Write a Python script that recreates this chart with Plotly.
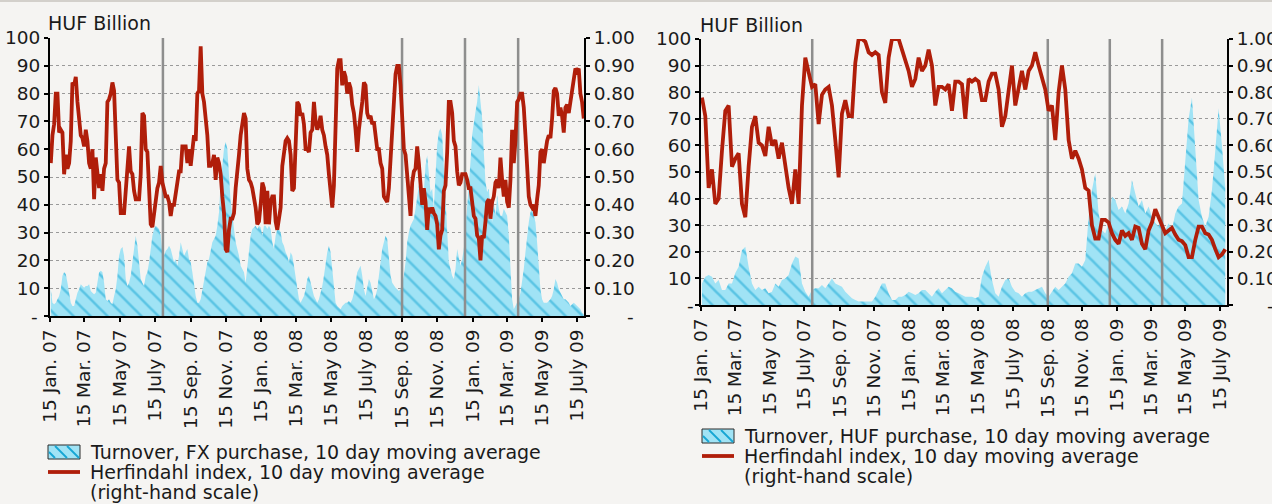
import pandas as pd
import plotly.graph_objects as go

W, H = 1272, 504

# ---------------- data ----------------
tick_dates = ["2007-01-15", "2007-03-15", "2007-05-15", "2007-07-15", "2007-09-15", "2007-11-15",
              "2008-01-15", "2008-03-15", "2008-05-15", "2008-07-15", "2008-09-15", "2008-11-15",
              "2009-01-15", "2009-03-15", "2009-05-15", "2009-07-15"]
tick_labels = ["15 Jan. 07", "15 Mar. 07", "15 May 07", "15 July 07", "15 Sep. 07", "15 Nov. 07",
               "15 Jan. 08", "15 Mar. 08", "15 May 08", "15 July 08", "15 Sep. 08", "15 Nov. 08",
               "15 Jan. 09", "15 Mar. 09", "15 May 09", "15 July 09"]
event_dates = ["2007-07-29", "2008-09-15", "2009-01-02", "2009-04-04"]

left_ticks = [0, 10, 20, 30, 40, 50, 60, 70, 80, 90, 100]
left_ticklabels = ["", "10", "20", "30", "40", "50", "60", "70", "80", "90", "100"]
right_ticks = [0, 0.1, 0.2, 0.3, 0.4, 0.5, 0.6, 0.7, 0.8, 0.9, 1.0]
right_ticklabels = ["", "0.10", "0.20", "0.30", "0.40", "0.50", "0.60", "0.70",
                    "0.80", "0.90", "1.00"]
zero_label = "-"

# left panel: FX purchase (sampled roughly every 2.9 days from 16 Jan 2007)
fx_start, fx_step = "2007-01-15 21:00", "4152min"
fx_turnover = [
    9.6, 4.8, 4.2, 4.8, 6.0, 7.2, 9.6, 14.5, 15.7, 15.1,
    12.0, 8.4, 4.8, 3.6, 3.6, 6.0, 8.4, 9.6, 11.4, 10.8,
    10.2, 10.8, 10.8, 11.4, 9.0, 8.4, 7.8, 8.4, 12.0, 15.7,
    16.3, 15.7, 12.0, 6.0, 5.4, 6.0, 4.8, 4.2, 7.2, 9.6,
    14.5, 21.7, 24.1, 24.7, 21.7, 13.3, 10.8, 12.0, 14.5, 19.3,
    24.1, 28.9, 25.3, 18.1, 13.3, 12.0, 10.8, 14.5, 15.7, 19.3,
    24.1, 28.9, 31.3, 32.5, 31.9, 31.3, 28.9, 22.9, 21.7, 23.5,
    24.1, 25.3, 24.1, 21.7, 19.3, 20.5, 18.1, 21.7, 26.5, 24.1,
    21.7, 22.9, 24.1, 20.5, 19.3, 15.7, 10.8, 7.2, 4.8, 4.8,
    6.0, 9.6, 12.0, 16.9, 19.3, 20.5, 24.1, 26.5, 27.7, 28.9,
    32.5, 37.3, 48.2, 55.4, 60.2, 62.7, 60.2, 50.6, 41.0, 36.1,
    31.3, 26.5, 24.1, 21.7, 18.1, 16.9, 15.7, 12.0, 18.1, 22.9,
    28.9, 31.3, 31.9, 32.5, 31.3, 32.5, 31.9, 28.9, 32.5, 32.5,
    31.3, 32.5, 31.3, 26.5, 24.1, 28.9, 31.3, 31.3, 30.1, 26.5,
    25.3, 22.9, 21.7, 19.3,
    22.9, 21.7, 18.1, 14.5, 9.6, 6.0, 4.8, 6.0, 7.2, 9.6,
    13.3, 14.5, 12.0, 9.6, 7.2, 6.0, 4.8, 6.0, 8.4, 10.8,
    14.5, 19.3, 22.9, 25.3, 22.9, 16.9, 9.6, 4.8, 3.6, 3.0,
    2.4, 3.6, 4.2, 4.8, 4.8, 5.4, 4.8, 6.0, 8.4, 12.0,
    15.7, 16.9, 18.1, 14.5, 9.6, 7.2, 10.8, 13.3, 12.0, 8.4,
    6.0, 7.2, 9.6, 14.5, 19.3, 24.1, 26.5, 28.9, 27.7, 21.7,
    14.5, 12.0, 10.8, 10.2, 9.6, 9.0, 9.6, 12.0, 14.5, 19.3,
    26.5, 30.1, 32.5, 33.7, 34.9, 38.6, 43.4, 47.0, 45.8, 43.4,
    44.6, 54.2, 57.8, 50.6, 44.6, 45.8, 38.6, 50.6, 61.4, 66.3,
    67.5, 65.1, 53.0, 41.0, 26.5, 19.3, 16.9, 14.5, 13.3, 16.9,
    24.1, 20.5, 18.1, 20.5, 24.1, 31.3, 38.6, 48.2, 55.4, 65.1,
    69.9, 73.5, 77.1, 83.1, 77.1, 71.1, 59.0, 48.2, 44.6, 45.8,
    38.6, 33.7, 41.0, 36.1, 43.4, 38.6, 36.1, 36.1, 38.6, 37.3,
    36.1, 28.9, 16.9, 6.0, 2.4, 3.6, 4.8, 6.0, 8.4, 12.0,
    16.9, 22.9, 28.9, 33.7, 37.3, 38.6, 36.1, 33.7, 26.5, 18.1,
    9.6, 6.0, 4.8, 4.8, 4.8, 5.4, 6.0, 7.2, 9.6, 13.3,
    12.0, 9.6, 8.4, 7.2, 6.0, 6.0, 5.4, 4.8, 3.6, 4.2,
    4.8, 4.2, 3.6, 3.0, 2.4, 1.2, 0.6,
]
fx_herfindahl = [
    0.55, 0.65, 0.69, 0.80, 0.80, 0.66, 0.67, 0.66, 0.51, 0.58,
    0.53, 0.55, 0.63, 0.84, 0.83, 0.86, 0.77, 0.72, 0.65, 0.64,
    0.61, 0.67, 0.63, 0.55, 0.53, 0.60, 0.42, 0.57, 0.51, 0.46,
    0.51, 0.45, 0.53, 0.55, 0.77, 0.78, 0.80, 0.84, 0.81, 0.65,
    0.49, 0.48, 0.37, 0.37, 0.37, 0.45, 0.53, 0.61, 0.52, 0.51,
    0.45, 0.42, 0.42, 0.42, 0.51, 0.73, 0.72, 0.60, 0.59, 0.45,
    0.33, 0.32, 0.37, 0.43, 0.46, 0.48, 0.54, 0.48, 0.46, 0.43,
    0.43, 0.41, 0.36, 0.40, 0.40, 0.45, 0.48, 0.52, 0.52, 0.61,
    0.61, 0.61, 0.55, 0.60, 0.54, 0.61, 0.65, 0.63, 0.80, 0.81,
    0.97, 0.80, 0.77, 0.71, 0.65, 0.54, 0.54, 0.55, 0.58, 0.49,
    0.57, 0.55, 0.51, 0.43, 0.37, 0.24, 0.23, 0.31, 0.35, 0.35,
    0.37, 0.46, 0.51, 0.58, 0.65, 0.69, 0.73, 0.71, 0.53, 0.49,
    0.48, 0.46, 0.43, 0.39, 0.33, 0.34, 0.40, 0.48, 0.46, 0.33,
    0.45, 0.33, 0.41, 0.43, 0.43, 0.34, 0.31, 0.36, 0.39, 0.54,
    0.58, 0.63, 0.64, 0.63,
    0.58, 0.45, 0.46, 0.59, 0.77, 0.76, 0.72, 0.73, 0.69, 0.60,
    0.60, 0.59, 0.66, 0.67, 0.77, 0.70, 0.67, 0.69, 0.72, 0.67,
    0.65, 0.61, 0.58, 0.51, 0.43, 0.39, 0.47, 0.65, 0.89, 0.92,
    0.92, 0.83, 0.88, 0.86, 0.80, 0.84, 0.82, 0.76, 0.73, 0.67,
    0.59, 0.67, 0.71, 0.77, 0.84, 0.83, 0.73, 0.71, 0.72, 0.69,
    0.70, 0.65, 0.60, 0.60, 0.55, 0.53, 0.43, 0.42, 0.41, 0.46,
    0.55, 0.65, 0.77, 0.87, 0.90, 0.90, 0.83, 0.71, 0.60, 0.58,
    0.51, 0.45, 0.36, 0.48, 0.52, 0.53, 0.61, 0.55, 0.47, 0.40,
    0.46, 0.41, 0.31, 0.39, 0.37, 0.39, 0.37, 0.36, 0.33, 0.24,
    0.29, 0.31, 0.45, 0.47, 0.59, 0.77, 0.77, 0.73, 0.63, 0.61,
    0.52, 0.47, 0.48, 0.51, 0.51, 0.51, 0.49, 0.46, 0.46, 0.41,
    0.36, 0.35, 0.29, 0.28, 0.20, 0.29, 0.28, 0.34, 0.41, 0.42,
    0.35, 0.41, 0.43, 0.48, 0.49, 0.46, 0.57, 0.49, 0.43, 0.49,
    0.41, 0.39, 0.49, 0.67, 0.55, 0.63, 0.77, 0.78, 0.80, 0.80,
    0.75, 0.65, 0.53, 0.43, 0.40, 0.39, 0.40, 0.36, 0.42, 0.47,
    0.59, 0.60, 0.55, 0.60, 0.63, 0.65, 0.64, 0.71, 0.81, 0.82,
    0.80, 0.72, 0.75, 0.72, 0.66, 0.75, 0.76, 0.73, 0.77, 0.82,
    0.87, 0.89, 0.88, 0.89, 0.80, 0.77, 0.71,
]

# right panel: HUF purchase (sampled roughly every 5.9 days from 16 Jan 2007)
huf_start, huf_step = "2007-01-16 05:00", "8436min"
huf_turnover = [
    8.1, 10.6, 11.3, 10.6, 8.1, 9.4, 5.6, 5.6, 8.1, 8.1,
    12.0, 14.4, 20.6, 21.9, 14.4, 8.1, 5.6, 6.9, 5.6, 6.3,
    4.4, 5.0, 8.1, 6.9, 9.4, 10.0, 11.3, 15.6, 18.2, 17.5,
    8.1, 5.0, 3.1, 5.6, 6.3, 6.3, 7.5, 6.3, 8.1, 10.0,
    8.1, 7.5, 6.9, 5.0, 3.8, 2.5, 1.9, 1.3, 1.3, 1.3,
    1.3, 1.3, 3.1, 5.6, 8.1, 8.1, 4.4, 1.9, 1.9, 3.1,
    3.1, 3.8, 5.0, 4.4, 3.8, 4.4, 5.6, 5.6, 4.4, 3.1,
    5.0, 6.3,
    4.4, 5.6, 6.9, 6.3, 5.0, 4.4, 3.8, 3.1, 3.1, 3.1,
    2.5, 3.1, 10.6, 14.4, 16.9, 9.4, 4.4, 3.1, 6.9, 9.4,
    10.0, 6.9, 5.0, 4.4, 3.1, 4.4, 5.0, 5.0, 5.6, 6.3,
    6.9, 4.4, 3.1, 5.0, 6.9, 5.6, 6.9, 8.1, 10.6, 11.9,
    15.6, 15.6, 14.4, 16.9, 33.2, 43.2, 49.4, 34.4, 28.2, 26.9,
    30.7, 40.7, 39.5, 35.7, 37.0, 34.4, 38.2, 46.9, 41.9, 37.0,
    39.5, 34.4, 37.0, 33.2, 30.7, 29.5, 33.2, 28.2, 30.7, 28.2,
    34.4, 37.0, 38.2, 55.0, 70.0, 78.0, 60.0, 39.5, 33.2, 29.5,
    33.2, 43.2, 58.0, 74.0, 60.0, 44.0,
]
huf_herfindahl = [
    0.78, 0.71, 0.44, 0.51, 0.38, 0.40, 0.58, 0.73, 0.75, 0.52,
    0.55, 0.57, 0.38, 0.33, 0.52, 0.67, 0.71, 0.61, 0.60, 0.56,
    0.67, 0.60, 0.62, 0.55, 0.61, 0.52, 0.44, 0.38, 0.51, 0.38,
    0.75, 0.93, 0.88, 0.82, 0.83, 0.68, 0.79, 0.81, 0.82, 0.75,
    0.62, 0.48, 0.72, 0.77, 0.71, 0.71, 0.91, 1.00, 1.00, 0.99,
    0.95, 0.94, 0.95, 0.94, 0.80, 0.76, 0.93, 1.00, 1.00, 1.00,
    0.96, 0.92, 0.88, 0.82, 0.85, 0.93, 0.88, 0.90, 0.96, 0.90,
    0.75, 0.82,
    0.82, 0.81, 0.83, 0.73, 0.84, 0.84, 0.83, 0.70, 0.85, 0.84,
    0.85, 0.84, 0.77, 0.77, 0.84, 0.87, 0.87, 0.81, 0.67, 0.71,
    0.80, 0.90, 0.75, 0.82, 0.88, 0.81, 0.88, 0.90, 0.95, 0.90,
    0.85, 0.81, 0.73, 0.75, 0.62, 0.80, 0.90, 0.81, 0.62, 0.55,
    0.58, 0.55, 0.51, 0.44, 0.43, 0.30, 0.25, 0.25, 0.32, 0.32,
    0.31, 0.27, 0.245, 0.23, 0.28, 0.26, 0.27, 0.245, 0.295, 0.29,
    0.23, 0.21, 0.28, 0.31, 0.36, 0.33, 0.295, 0.27, 0.28, 0.29,
    0.265, 0.245, 0.24, 0.225, 0.18, 0.18, 0.245, 0.295, 0.295, 0.27,
    0.265, 0.245, 0.21, 0.18, 0.19, 0.21,
]

legend_left = ["Turnover, FX purchase, 10 day moving average",
               "Herfindahl index, 10 day moving average", "(right-hand scale)"]
legend_right = ["Turnover, HUF purchase, 10 day moving average",
                "Herfindahl index, 10 day moving average", "(right-hand scale)"]
unit_label = "HUF Billion"

# ---------------- style ----------------
FONT = "DejaVu Sans, Verdana, sans-serif"
TXT = "#1a1a1a"
BG = "#f5f4f2"
CYAN = "#a0e3f5"
HATCH = "#16a6d4"
RED = "#b01e0a"
VGRAY = "#8e8e8e"
FS = 19
FS_TICK = 18.5

fx_dates = pd.date_range(fx_start, periods=len(fx_turnover), freq=fx_step)
huf_dates = pd.date_range(huf_start, periods=len(huf_turnover), freq=huf_step)


def vline_xy(dates, top):
    xs, ys = [], []
    for d in dates:
        xs += [d, d, None]
        ys += [0, top, None]
    return xs, ys


fig = go.Figure()

panels = [
    dict(x="x", y="y", y2="y2", dates=fx_dates, turn=fx_turnover, herf=fx_herfindahl),
    dict(x="x2", y="y3", y2="y4", dates=huf_dates, turn=huf_turnover, herf=huf_herfindahl),
]
for p in panels:
    fig.add_trace(go.Scatter(
        x=p["dates"], y=p["turn"], xaxis=p["x"], yaxis=p["y"], mode="lines",
        line=dict(width=0, color=CYAN), fill="tozeroy", fillcolor=CYAN,
        fillpattern=dict(shape="\\", fgcolor=HATCH, bgcolor=CYAN, size=12, solidity=0.22),
        hoverinfo="skip", showlegend=False))
    vx, vy = vline_xy(event_dates, 100)
    fig.add_trace(go.Scatter(
        x=vx, y=vy, xaxis=p["x"], yaxis=p["y"], mode="lines",
        line=dict(width=2.5, color=VGRAY), hoverinfo="skip", showlegend=False))
    fig.add_trace(go.Scatter(
        x=p["dates"], y=p["herf"], xaxis=p["x"], yaxis=p["y2"], mode="lines",
        line=dict(width=3.8, color=RED), hoverinfo="skip", showlegend=False))

xrange_ = ["2007-01-14 12:00", "2009-07-27 00:00"]


def xax(domain, anchor):
    return dict(type="date", range=xrange_, domain=domain, anchor=anchor, automargin=False,
                tickmode="array", tickvals=tick_dates, ticktext=tick_labels, tickangle=-90,
                ticks="outside", ticklen=4, tickwidth=1.5, tickcolor="black",
                showline=True, linecolor="black", linewidth=2, showgrid=False, zeroline=False,
                tickfont=dict(family=FONT, size=FS_TICK, color=TXT))


def yax_left(domain, anchor):
    return dict(range=[0, 100], domain=domain, anchor=anchor, automargin=False, tickmode="array",
                tickvals=left_ticks, ticktext=left_ticklabels,
                ticks="outside", ticklen=4, tickwidth=2, tickcolor="black",
                showline=True, linecolor="black", linewidth=2,
                showgrid=True, gridcolor="#9a9a9a", gridwidth=1.4, griddash="dot",
                zeroline=False, tickfont=dict(family=FONT, size=FS_TICK, color=TXT))


def yax_right(overlay, anchor):
    return dict(range=[0, 1], overlaying=overlay, anchor=anchor, side="right", automargin=False,
                tickmode="array", tickvals=right_ticks, ticktext=right_ticklabels,
                ticks="outside", ticklen=4, tickwidth=2, tickcolor="black",
                showline=True, linecolor="black", linewidth=2, showgrid=False, zeroline=False,
                tickfont=dict(family=FONT, size=FS_TICK, color=TXT))


L_dom_x = [50 / W, 584 / W]
L_dom_y = [1 - 316 / H, 1 - 38 / H]
R_dom_x = [701 / W, 1227 / W]
R_dom_y = [1 - 305 / H, 1 - 39 / H]

fig.update_layout(
    width=W, height=H, autosize=False,
    margin=dict(l=0, r=0, t=0, b=0, pad=0),
    paper_bgcolor=BG, plot_bgcolor=BG,
    font=dict(family=FONT, size=FS, color=TXT),
    showlegend=False,
    xaxis=xax(L_dom_x, "y"),
    yaxis=yax_left(L_dom_y, "x"),
    yaxis2=yax_right("y", "x"),
    xaxis2=xax(R_dom_x, "y3"),
    yaxis3=yax_left(R_dom_y, "x2"),
    yaxis4=yax_right("y3", "x2"),
)


def P(x, y):
    return x / W, 1 - y / H


annotations = []
shapes = []


def add_text(txt, x, y, anchor="left", size=FS):
    ax, ay = P(x, y)
    annotations.append(dict(text=txt, x=ax, y=ay, xref="paper", yref="paper",
                            xanchor=anchor, yanchor="middle", showarrow=False,
                            font=dict(family=FONT, size=size, color=TXT)))


add_text(unit_label, 46, 23)
add_text(unit_label, 698, 25)

# zero labels of the axes ("-")
add_text(zero_label, 34, 316, "center", FS_TICK)
add_text(zero_label, 630, 316, "center", FS_TICK)
add_text(zero_label, 690, 305, "center", FS_TICK)
add_text(zero_label, 1270, 305, "center", FS_TICK)


def add_legend(items, x0, y0):
    pw, ph = 32, 14
    ax0, ay0 = P(x0, y0 - ph / 2)
    ax1, ay1 = P(x0 + pw, y0 + ph / 2)
    shapes.append(dict(type="rect", xref="paper", yref="paper", x0=ax0, y0=ay1, x1=ax1, y1=ay0,
                       fillcolor=CYAN, line=dict(color="#2a2a2a", width=1)))
    for s in (-6, 6, 18):
        xa, xb = x0 + s, x0 + s + ph
        ya, yb = y0 - ph / 2, y0 + ph / 2
        if xa < x0:
            ya += x0 - xa
            xa = x0
        if xb > x0 + pw:
            yb -= xb - (x0 + pw)
            xb = x0 + pw
        p0 = P(xa + 1, ya + 1)
        p1 = P(xb - 1, yb - 1)
        shapes.append(dict(type="line", xref="paper", yref="paper", x0=p0[0], y0=p0[1],
                           x1=p1[0], y1=p1[1], line=dict(color=HATCH, width=1.8)))
    add_text(items[0], x0 + 40, y0)
    q0 = P(x0, y0 + 20)
    q1 = P(x0 + pw, y0 + 20)
    shapes.append(dict(type="line", xref="paper", yref="paper", x0=q0[0], y0=q0[1],
                       x1=q1[0], y1=q1[1], line=dict(color=RED, width=3.8)))
    add_text(items[1], x0 + 40, y0 + 20)
    add_text(items[2], x0 + 40, y0 + 40)


add_legend(legend_left, 48, 452)
add_legend(legend_right, 702, 436)

shapes.append(dict(type="rect", xref="paper", yref="paper", x0=0, x1=1, y0=1 - 2 / H, y1=1,
                   fillcolor="#d3d0cb", line=dict(width=0)))

fig.update_layout(annotations=annotations, shapes=shapes)

fig.write_html("out.html", config={"displayModeBar": False},
               post_script="document.body.style.margin='0';document.body.style.overflow='hidden';")
